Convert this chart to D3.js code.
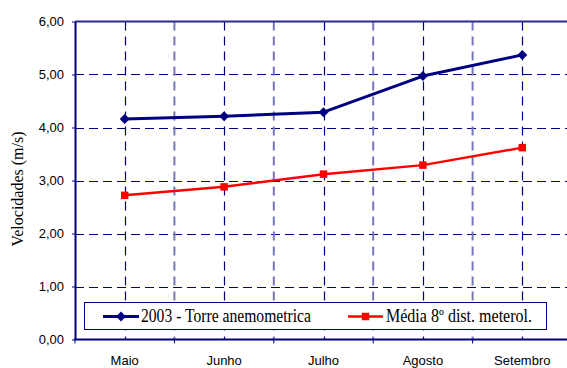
<!DOCTYPE html>
<html>
<head>
<meta charset="utf-8">
<script src="https://cdn.jsdelivr.net/npm/d3@7"></script>
<style>
  html, body { margin: 0; padding: 0; background: #fff; }
  svg { display: block; }
  .serif { font-family: "Liberation Serif", "Times New Roman", serif; }
  .sans { font-family: "Liberation Sans", Arial, sans-serif; }
</style>
</head>
<body>
<svg id="chart" width="567" height="368"></svg>
<script>
// Monthly wind speeds (m/s)
const months = ["Maio", "Junho", "Julho", "Agosto", "Setembro"];
const torre2003 = [4.16, 4.21, 4.29, 4.97, 5.37];
const media8dist = [2.72, 2.88, 3.12, 3.29, 3.62];
const seriesNames = ["2003 - Torre anemometrica", "Média 8º dist. meterol."];
const yTicks = [0, 1, 2, 3, 4, 5, 6];
const yTitle = "Velocidades (m/s)";

const navy = "#000080";
const red = "#ff0000";

const svg = d3.select("#chart");
const plotLeft = 75, plotRight = 572, plotTop = 21.5, plotBottom = 339.5;

const x = d3.scaleBand().domain(months).range([plotLeft, plotRight]).padding(0);
const cx = m => x(m) + x.bandwidth() / 2;
const y = d3.scaleLinear().domain([0, 6]).range([plotBottom, plotTop]);

const fmt = v => d3.format(".2f")(v).replace(".", ",");

// Gridlines
const grid = svg.append("g").attr("fill", "none");
grid.selectAll("line.h").data(yTicks.filter(t => t > 0 && t < 6)).join("line")
  .attr("x1", plotLeft).attr("x2", plotRight)
  .attr("y1", d => Math.round(y(d)) + 0.5).attr("y2", d => Math.round(y(d)) + 0.5)
  .attr("stroke", navy).attr("stroke-width", 1).attr("stroke-dasharray", "9,5");
// lines between categories
grid.selectAll("line.vb").data(months.slice(1)).join("line")
  .attr("x1", d => x(d)).attr("x2", d => x(d))
  .attr("y1", plotTop).attr("y2", plotBottom)
  .attr("stroke", "#7777bb").attr("stroke-width", 2).attr("stroke-dasharray", "9,6");
// lines through category centres
grid.selectAll("line.vc").data(months).join("line")
  .attr("x1", d => Math.round(cx(d)) + 0.5).attr("x2", d => Math.round(cx(d)) + 0.5)
  .attr("y1", plotTop).attr("y2", plotBottom)
  .attr("stroke", navy).attr("stroke-width", 1.2).attr("stroke-dasharray", "9,6");

// Plot frame top
svg.append("line").attr("x1", plotLeft).attr("x2", plotRight).attr("y1", plotTop).attr("y2", plotTop)
  .attr("stroke", "#2a2a90").attr("stroke-width", 2);

// Y axis
const yAxis = d3.axisLeft(y).tickValues(yTicks).tickFormat(fmt)
  .tickSizeInner(3).tickSizeOuter(0).tickPadding(8);
const gy = svg.append("g").attr("transform", `translate(${plotLeft},0)`).call(yAxis);
gy.attr("font-family", null);
gy.select(".domain").attr("stroke", navy).attr("stroke-width", 2);
gy.selectAll(".tick line").attr("stroke", navy).attr("stroke-width", 1);
gy.selectAll("text").attr("class", "sans").attr("font-size", 13).attr("fill", "#000");

// X axis: labels at category centres, ticks between categories
const xAxis = d3.axisBottom(x).tickSize(0).tickPadding(16);
const gx = svg.append("g").attr("transform", `translate(0,${plotBottom})`).call(xAxis);
gx.attr("font-family", null);
gx.select(".domain").remove();
gx.selectAll("text").attr("class", "sans").attr("font-size", 13).attr("fill", "#000");
svg.append("g").selectAll("line").data(months).join("line")
  .attr("x1", d => x(d)).attr("x2", d => x(d))
  .attr("y1", plotBottom).attr("y2", plotBottom + 4)
  .attr("stroke", navy).attr("stroke-width", 1);
svg.append("line").attr("x1", plotLeft - 1).attr("x2", plotRight).attr("y1", plotBottom).attr("y2", plotBottom)
  .attr("stroke", navy).attr("stroke-width", 2);

// Y title
svg.append("text")
  .attr("class", "serif")
  .attr("transform", `translate(23,189) rotate(-90)`)
  .attr("text-anchor", "middle")
  .attr("font-size", 16)
  .attr("fill", "#000")
  .text(yTitle);

// Series
const diamond = d3.symbol().type(d3.symbolSquare).size(50);
const square = d3.symbol().type(d3.symbolSquare).size(56);

const series = [
  { name: seriesNames[0], values: torre2003, color: navy, width: 3, marker: diamond, rot: 45 },
  { name: seriesNames[1], values: media8dist, color: red, width: 2.5, marker: square, rot: 0 }
];

const line = d3.line().x((d, i) => cx(months[i])).y(d => y(d));

series.forEach(s => {
  svg.append("path").datum(s.values)
    .attr("d", line).attr("fill", "none")
    .attr("stroke", s.color).attr("stroke-width", s.width)
    .attr("stroke-linejoin", "round");
  svg.append("g").selectAll("path").data(s.values).join("path")
    .attr("d", s.marker)
    .attr("transform", (d, i) => `translate(${cx(months[i])},${y(d)}) rotate(${s.rot})`)
    .attr("fill", s.color);
});

// Legend
const lg = svg.append("g");
lg.append("rect").attr("x", 84.5).attr("y", 302.5).attr("width", 462).attr("height", 27)
  .attr("fill", "#fff").attr("stroke", navy).attr("stroke-width", 1);
const legendItems = [
  { s: series[0], x0: 103, x1: 139, tx: 141, tl: 170 },
  { s: series[1], x0: 348, x1: 383, tx: 386, tl: 146 }
];
legendItems.forEach(it => {
  lg.append("line").attr("x1", it.x0).attr("x2", it.x1).attr("y1", 316.5).attr("y2", 316.5)
    .attr("stroke", it.s.color).attr("stroke-width", it.s.width);
  lg.append("path").attr("d", it.s.marker)
    .attr("transform", `translate(${(it.x0 + it.x1) / 2},316.5) rotate(${it.s.rot})`)
    .attr("fill", it.s.color);
  lg.append("text").attr("class", "serif").attr("x", it.tx).attr("y", 322)
    .attr("font-size", 18)
    .attr("textLength", it.tl).attr("lengthAdjust", "spacingAndGlyphs")
    .attr("fill", "#000")
    .text(it.s.name);
});
</script>
</body>
</html>
